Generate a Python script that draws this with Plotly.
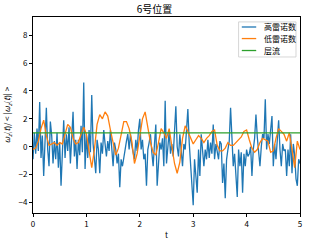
import numpy as np
import plotly.graph_objects as go

title = "6号位置"
names = ["高雷诺数", "低雷诺数", "层流"]

high_re = [
    -0.9, 1.0, -0.5, 1.3, -0.3, 3.2, -0.8, 0.8, -2.1, 1.2,
    2.8, -0.2, -1.4, 1.8, 0.8, -1.2, 0.4, -0.9, 1.0, -1.5,
    0.3, -2.8, 0.2, 1.9, -0.8, 0.9, -0.3, 1.4, -1.2, 0.6,
    2.5, -0.7, 0.5, -1.6, 0.5, -0.6, 1.5, -0.4, 4.6, -1.6,
    0.9, -0.8, 1.2, -0.4, 3.7, 0.2, -1.0, -1.9, 0.5,
    -0.2, -1.9, 0.3, -0.5, 1.2, 0.2, -0.7, 0.4, -0.3, 1.2,
    -0.2, -1.4, 0.3, -0.2, -1.2, -0.5, -2.9, -0.9, -1.4, -0.6,
    -0.2, 0.4, 0.9, -0.2, 0.9, 0.1, -0.4, -0.9, 0.5, -0.3,
    1.2, 2.0, -0.2, 0.5, -0.9, -0.5, -2.8, -0.2, 0.3, 0.9,
    -0.4, -1.4, 0.2, 1.6, -2.8, -1.0, 0.3, -0.2, 0.6, -1.4,
    3.3,
    -1.2, 0.4, 1.1, -0.5, 0.2, -0.7, 1.5, 2.9, 0.0, -0.7,
    0.9, -0.4, -1.4, 0.2, -0.2, 1.2, 2.7, 0.3, -1.4, -2.4,
    -4.2,
    -0.9, -2.4, -3.3, -0.2, -2.1, 0.9, -0.6, -1.4, -0.2, -0.9,
    0.5, -0.8, 0.3, -0.5, 1.6, -0.9, 0.2, -0.5, -0.9, 0.4,
    0.2, -2.6, -1.2,
    -3.7, -0.9, -0.2, 0.4, 2.8, 0.2, -1.4, -0.5, -1.9, -3.6,
    -0.2, -1.4, -0.4, -3.3, -0.5, -1.4, -0.2, -0.7, -0.5, 0.0,
    -2.1, -0.2, 0.6, 2.3, 0.7, -0.2, -1.4, 0.0, 0.9, 0.6,
    3.4, -0.2, 0.9, 0.2, 1.0, 2.2, -1.4, 0.2, -0.9, 0.5,
    1.9, -0.2, -1.4, 0.2, -0.3, -0.2, -2.1, -0.2, -1.4, 0.9,
    -1.9, 0.2, -0.6, -2.3, -2.8, -0.9, -1.2,
]

low_re = [
    -0.2, -0.1, 0.4, 1.3, 1.9, 0.8, 0.1, 0.2, 0.3, 0.1,
    0.3, 0.2, 1.0, 1.6, 1.4, 0.6, 0.2, 0.3, 0.9, 1.4,
    0.9, -0.4, -1.5, -0.2, 1.6, 2.3, 2.0, 2.5, 2.2, 1.2,
    0.2, -0.6, -0.1, 0.8, 1.8, 1.8, 1.3, 0.4, -1.2, -0.5,
    0.9, 2.0, 2.5, 1.4, 0.3, -0.4, -0.6, 0.3, 1.3, 1.0,
    0.6, 1.3, 0.1, -1.2, -1.9, -1.1, 0.6, 1.5, 1.1, 0.6,
    0.2, 0.5, 0.8, 0.6, 0.3, 0.6, 0.8, 1.1, 1.2, 0.1,
    -0.3, -0.3, -0.1, 0.3, 0.1, 0.1, 0.3, 0.5, 0.7, 1.1,
    1.2, 0.5, -0.1, -0.4, -0.2, 0.3, 0.6, 0.5, 0.4, -0.4,
    -0.3, 0.6, 1.3, 1.1, 0.9, 0.4, 1.0, -0.2, -1.5, 0.4,
    -0.2,
]

laminar = [1.0, 1.0]

t_high = np.linspace(0, 5, len(high_re))
t_low = np.linspace(0, 5, len(low_re))
t_lam = np.linspace(0, 5, len(laminar))

colors = ["#1f77b4", "#ff7f0e", "#2ca02c"]

fig = go.Figure()
for x, y, n, c in [(t_high, high_re, names[0], colors[0]),
                   (t_low, low_re, names[1], colors[1]),
                   (t_lam, laminar, names[2], colors[2])]:
    fig.add_trace(go.Scatter(x=x, y=y, mode="lines", name=n, showlegend=False,
                             line=dict(color=c, width=1.3)))

font = "Noto Sans CJK SC, DejaVu Sans, sans-serif"
axis_common = dict(showgrid=False, zeroline=False, showline=True, linecolor="black",
                   linewidth=0.8, mirror=True, ticks="outside", ticklen=3, tickwidth=0.8,
                   tickcolor="black", tickfont=dict(size=8, color="black", family=font))

# compact legend box (paper coordinates)
shapes = [dict(type="rect", xref="paper", yref="paper", x0=0.770, x1=0.985, y0=0.796, y1=0.975,
               fillcolor="rgba(255,255,255,0.85)", line=dict(color="#cccccc", width=0.8), layer="above")]
annotations = []
row_y = [0.949, 0.890, 0.829]
for n, c, yy in zip(names, colors, row_y):
    shapes.append(dict(type="line", xref="paper", yref="paper", x0=0.782, x1=0.836, y0=yy, y1=yy,
                       line=dict(color=c, width=1.3), layer="above"))
    annotations.append(dict(xref="paper", yref="paper", x=0.858, y=yy, text=n, showarrow=False,
                            xanchor="left", yanchor="middle",
                            font=dict(size=8, family=font, color="black")))

fig.update_layout(
    width=309, height=245,
    margin=dict(l=32, r=7, t=17, b=27),
    paper_bgcolor="white", plot_bgcolor="white",
    font=dict(family=font, size=8, color="black"),
    title=dict(text=title, x=0.5, xanchor="center", y=0.96, yanchor="middle",
               font=dict(size=10, family=font, color="black")),
    xaxis=dict(range=[0, 5], tickvals=[0, 1, 2, 3, 4, 5],
               title=dict(text="t", font=dict(size=8), standoff=4), **axis_common),
    yaxis=dict(range=[-4.75, 9.3], tickvals=[-4, -2, 0, 2, 4, 6, 8],
               title=dict(text="<i>ω<sub>z</sub></i>(<i>t</i>)/ < |<i>ω<sub>z</sub></i>(<i>t</i>)| >",
                          font=dict(size=8), standoff=6), **axis_common),
    shapes=shapes,
    annotations=annotations,
    showlegend=False,
)

fig.write_html("out.html")
